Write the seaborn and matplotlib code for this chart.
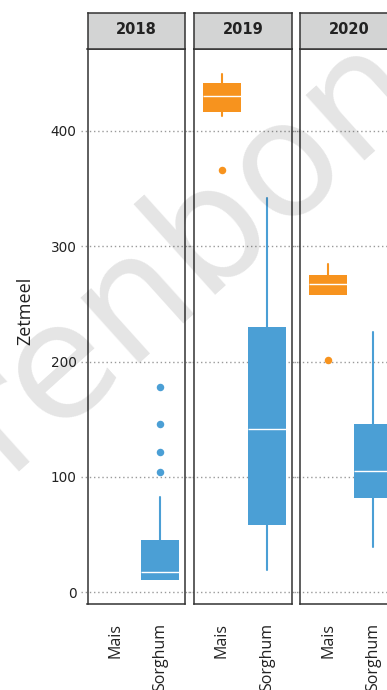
import matplotlib
matplotlib.use("Agg")
import matplotlib.pyplot as plt
import seaborn as sns

# ---- data (five-number summaries + outliers) ----
years = ["2018", "2019", "2020"]
crops = ["Mais", "Sorghum"]
y_ticks = [0, 100, 200, 300, 400]

# [whisker low, Q1, median, Q3, whisker high]
mais_2018 = None
mais_2018_out = []
sorghum_2018 = [10.5, 10.5, 17.5, 45, 83]
sorghum_2018_out = [104.5, 121.5, 146, 178]

mais_2019 = [413, 416, 430, 441, 449]
mais_2019_out = [366]
sorghum_2019 = [19.5, 58, 141.5, 230, 342]
sorghum_2019_out = []

mais_2020 = [258, 258, 267, 275, 284.5]
mais_2020_out = [201]
sorghum_2020 = [39.5, 82, 105, 146, 226]
sorghum_2020_out = []

data = {
    "2018": [(mais_2018, mais_2018_out), (sorghum_2018, sorghum_2018_out)],
    "2019": [(mais_2019, mais_2019_out), (sorghum_2019, sorghum_2019_out)],
    "2020": [(mais_2020, mais_2020_out), (sorghum_2020, sorghum_2020_out)],
}
colors = {"Mais": "#f7931e", "Sorghum": "#4b9fd5"}

sns.set_theme(style="white")
plt.rcParams["font.family"] = ["Open Sans", "DejaVu Sans"]

W, H = 387, 690
fig = plt.figure(figsize=(W / 100, H / 100), dpi=100)
fig.patch.set_facecolor("white")

frame_col = "#333333"
panel_left = [87.5, 194.0, 300.3]
panel_w = 97.7
plot_top, plot_bot = 49.0, 604.3
strip_top = 12.8

for i, yr in enumerate(years):
    x0 = panel_left[i]
    ax = fig.add_axes([x0 / W, 1 - plot_bot / H, panel_w / W, (plot_bot - plot_top) / H])
    ax.set_facecolor("none")
    ax.set_xlim(-0.616, 1.55)
    ax.set_ylim(-10.3, 470.8)

    # dotted gridlines, continuing through the gaps between panels
    xmin = -0.062 if i == 0 else -0.06
    for yv in y_ticks:
        ax.axhline(yv, xmin=xmin, xmax=1.06, color="#9a9a9a", lw=1.0,
                   ls=(0, (1, 2)), zorder=0.5, clip_on=False)

    for j, crop in enumerate(crops):
        st, out = data[yr][j]
        if st is None:
            continue
        c = colors[crop]
        stats = [dict(whislo=st[0], q1=st[1], med=st[2], q3=st[3], whishi=st[4], fliers=out)]
        ax.bxp(stats, positions=[j], widths=0.84, patch_artist=True, showcaps=False,
               manage_ticks=False,
               boxprops=dict(facecolor=c, edgecolor="none", linewidth=0),
               whiskerprops=dict(color=c, linewidth=1.5),
               medianprops=dict(color="white", linewidth=1.0),
               flierprops=dict(marker="o", markerfacecolor=c, markeredgecolor="none",
                               markersize=5.4),
               zorder=2)

    ax.set_xticks(range(len(crops)))
    ax.set_xticklabels(crops, rotation=90, fontsize=11.5, color="#222222",
                       family=["Open Sans", "DejaVu Sans"])
    ax.tick_params(axis="x", length=0, pad=13.5)
    ax.set_yticks(y_ticks)
    if i == 0:
        ax.set_yticklabels([str(v) for v in y_ticks], fontsize=9.8, color="#222222",
                           family=["DejaVu Sans"])
        ax.tick_params(axis="y", length=0, pad=8)
    else:
        ax.tick_params(axis="y", length=0, labelleft=False)
    for s in ax.spines.values():
        s.set_visible(True)
        s.set_color(frame_col)
        s.set_linewidth(1.1)
    ax.grid(False)

    # facet strip
    sax = fig.add_axes([x0 / W, 1 - plot_top / H, panel_w / W, (plot_top - strip_top) / H])
    sax.set_facecolor("#d3d4d4")
    sax.set_xticks([])
    sax.set_yticks([])
    for s in sax.spines.values():
        s.set_visible(True)
        s.set_color(frame_col)
        s.set_linewidth(1.1)
    sax.text(0.5, 0.55, yr, ha="center", va="center", fontsize=10.5, fontweight="bold",
             color="#222222", family=["DejaVu Sans"], transform=sax.transAxes)

fig.text(25 / W, 1 - 311 / H, "Zetmeel", rotation=90, ha="center", va="center",
         fontsize=13, color="#222222", family=["Open Sans", "DejaVu Sans"])

# watermark
fig.text(139 / W, 1 - 349 / H, "Boerenbond", rotation=42, rotation_mode="anchor",
         ha="center", va="baseline", fontsize=116, color="black", alpha=0.105,
         family=["DejaVu Sans"], zorder=10)

fig.savefig("out.png", dpi=100, facecolor="white")
